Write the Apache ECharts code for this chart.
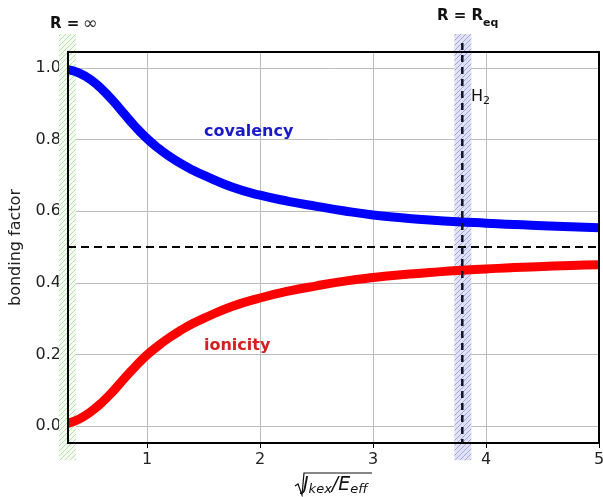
<!DOCTYPE html>
<html>
<head>
<meta charset="utf-8">
<script src="https://cdn.jsdelivr.net/npm/echarts@6/dist/echarts.min.js"></script>
<style>
  html, body { margin: 0; padding: 0; background: #fff; }
  #chart { width: 603px; height: 497px; }
</style>
</head>
<body>
<div id="chart"></div>
<script>
// x = sqrt(Jkex/Eeff)
var xs = [0.3, 0.4, 0.5, 0.6, 0.7, 0.8, 0.9, 1.0, 1.1, 1.2, 1.3, 1.4, 1.5, 1.75, 2.0, 2.25, 2.5, 2.75, 3.0, 3.25, 3.5, 3.75, 4.0, 4.25, 4.5, 4.75, 5.0];
var covalency = [0.996, 0.986, 0.968, 0.941, 0.908, 0.871, 0.835, 0.803, 0.776, 0.753, 0.733, 0.716, 0.701, 0.668, 0.645, 0.628, 0.614, 0.601, 0.590, 0.582, 0.576, 0.571, 0.567, 0.563, 0.560, 0.557, 0.554];
var ionicity = [0.008, 0.020, 0.040, 0.066, 0.098, 0.134, 0.168, 0.199, 0.225, 0.248, 0.268, 0.286, 0.301, 0.334, 0.358, 0.377, 0.392, 0.405, 0.415, 0.423, 0.429, 0.435, 0.439, 0.443, 0.446, 0.449, 0.451];
var halfLine = 0.5;
// shaded regions: R = infinity and R = Req (x ranges)
var bands = [[0.22, 0.37, 0], [3.72, 3.87, 1]];
var reqX = 3.79;
var xTicks = [1, 2, 3, 4, 5];
var yTicks = [0.0, 0.2, 0.4, 0.6, 0.8, 1.0];

function zip(a, b) {
  return a.map(function (v, i) { return [v, b[i]]; });
}

function hatch(bg, fg) {
  var c = document.createElement('canvas');
  c.width = 5; c.height = 5;
  var g = c.getContext('2d');
  g.fillStyle = bg;
  g.fillRect(0, 0, 5, 5);
  g.strokeStyle = fg;
  g.lineWidth = 1;
  g.beginPath();
  g.moveTo(0, 5); g.lineTo(5, 0);
  g.moveTo(-1, 1); g.lineTo(1, -1);
  g.moveTo(4, 6); g.lineTo(6, 4);
  g.stroke();
  return { image: c, repeat: 'repeat' };
}
var bandFills = [hatch('#f4fbf1', '#b9dfae'), hatch('#e2e2f7', '#a3a3dd')];

var chart = echarts.init(document.getElementById('chart'));
var font = 'DejaVu Sans';

var option = {
  animation: false,
  grid: { left: 68, right: 4, top: 52, bottom: 54, outerBoundsMode: 'none', containLabel: false,
    show: true, z: 4, borderColor: '#000', borderWidth: 2 },
  xAxis: {
    type: 'value', min: 0.3, max: 5,
    axisLine: { show: true, onZero: false, lineStyle: { color: '#000', width: 2 } },
    axisTick: { show: true, length: 5, lineStyle: { color: '#000' },
      customValues: xTicks },
    axisLabel: { fontFamily: font, fontSize: 16, color: '#222', margin: 9,
      customValues: xTicks },
    splitLine: { show: true, lineStyle: { color: '#bdbdbd', width: 1 } }
  },
  yAxis: {
    type: 'value', min: -0.047, max: 1.045,
    name: 'bonding factor', nameLocation: 'middle', nameGap: 44,
    nameTextStyle: { fontFamily: font, fontSize: 16, color: '#222' },
    axisLine: { show: true, onZero: false, lineStyle: { color: '#000', width: 2 } },
    axisTick: { show: true, length: 5, lineStyle: { color: '#000' },
      customValues: yTicks },
    axisLabel: { fontFamily: font, fontSize: 16, color: '#222', margin: 7,
      customValues: yTicks,
      formatter: function (v) { return v.toFixed(1); } },
    splitLine: { show: true, lineStyle: { color: '#bdbdbd', width: 1 } }
  },
  series: [
    {
      type: 'custom',
      clip: false,
      z: 1,
      data: bands,
      encode: { x: [0, 1] },
      renderItem: function (params, api) {
        var p0 = api.coord([api.value(0), 1.095]);
        var p1 = api.coord([api.value(1), -0.095]);
        return {
          type: 'rect',
          shape: { x: p0[0], y: p0[1], width: p1[0] - p0[0], height: p1[1] - p0[1] },
          style: { fill: bandFills[api.value(2)] }
        };
      }
    },
    {
      name: 'covalency',
      type: 'line',
      z: 3,
      data: zip(xs, covalency),
      smooth: 0.5,
      showSymbol: false,
      lineStyle: { color: '#0000ff', width: 9, cap: 'butt', join: 'round' },
      markLine: {
        silent: true,
        symbol: 'none',
        label: { show: false },
        lineStyle: { color: '#000', width: 2, type: [8, 5] },
        data: [{ yAxis: halfLine }]
      }
    },
    {
      name: 'ionicity',
      type: 'line',
      z: 3,
      data: zip(xs, ionicity),
      smooth: 0.5,
      showSymbol: false,
      lineStyle: { color: '#ff0000', width: 9, cap: 'butt', join: 'round' }
    },
    {
      type: 'custom',
      clip: false,
      z: 5,
      data: [[reqX]],
      renderItem: function (params, api) {
        var p0 = api.coord([api.value(0), 1.07]);
        var p1 = api.coord([api.value(0), -0.047]);
        return {
          type: 'line',
          shape: { x1: p0[0], y1: p0[1], x2: p1[0], y2: p1[1] },
          style: { stroke: '#111128', lineWidth: 2.5, lineDash: [7, 5] }
        };
      }
    }
  ],
  graphic: [
    {
      type: 'text', left: 50, top: 15, z: 10,
      style: {
        text: '{b|R =} {n|∞}',
        rich: {
          b: { fontFamily: font, fontSize: 15, fontWeight: 'bold', fill: '#111' },
          n: { fontFamily: font, fontSize: 18, fill: '#333' }
        }
      }
    },
    {
      type: 'text', left: 437, top: 9, z: 10,
      style: {
        text: '{b|R = R}{s|eq}',
        rich: {
          b: { fontFamily: font, fontSize: 15, fontWeight: 'bold', fill: '#111', verticalAlign: 'top' },
          s: { fontFamily: font, fontSize: 11, fontWeight: 'bold', fill: '#111', padding: [9, 0, 0, 0] }
        }
      }
    },
    {
      type: 'text', left: 471, top: 89, z: 10,
      style: {
        text: '{b|H}{s|2}',
        rich: {
          b: { fontFamily: font, fontSize: 16, fill: '#111' },
          s: { fontFamily: font, fontSize: 11, fill: '#111', padding: [8, 0, 0, 0] }
        }
      }
    },
    {
      type: 'text', left: 204, top: 124, z: 10,
      style: { text: 'covalency', fontFamily: font, fontSize: 16, fontWeight: 'bold', fill: '#1a1ac8' }
    },
    {
      type: 'text', left: 204, top: 338, z: 10,
      style: { text: 'ionicity', fontFamily: font, fontSize: 16, fontWeight: 'bold', fill: '#d42020' }
    },
    {
      type: 'polyline', z: 10,
      shape: { points: [[295, 486], [298, 484], [302, 495], [304, 473], [372, 473]] },
      style: { stroke: '#111', lineWidth: 1.2, fill: null }
    },
    {
      type: 'text', left: 303, top: 476, z: 10,
      style: {
        text: '{i|J}{s|kex}{i|/E}{s|eff}',
        rich: {
          i: { fontFamily: font, fontSize: 19, fontStyle: 'italic', fill: '#111' },
          s: { fontFamily: font, fontSize: 13, fontStyle: 'italic', fill: '#111', padding: [8, 0, 0, 0] }
        }
      }
    }
  ]
};

chart.setOption(option);
</script>
</body>
</html>
